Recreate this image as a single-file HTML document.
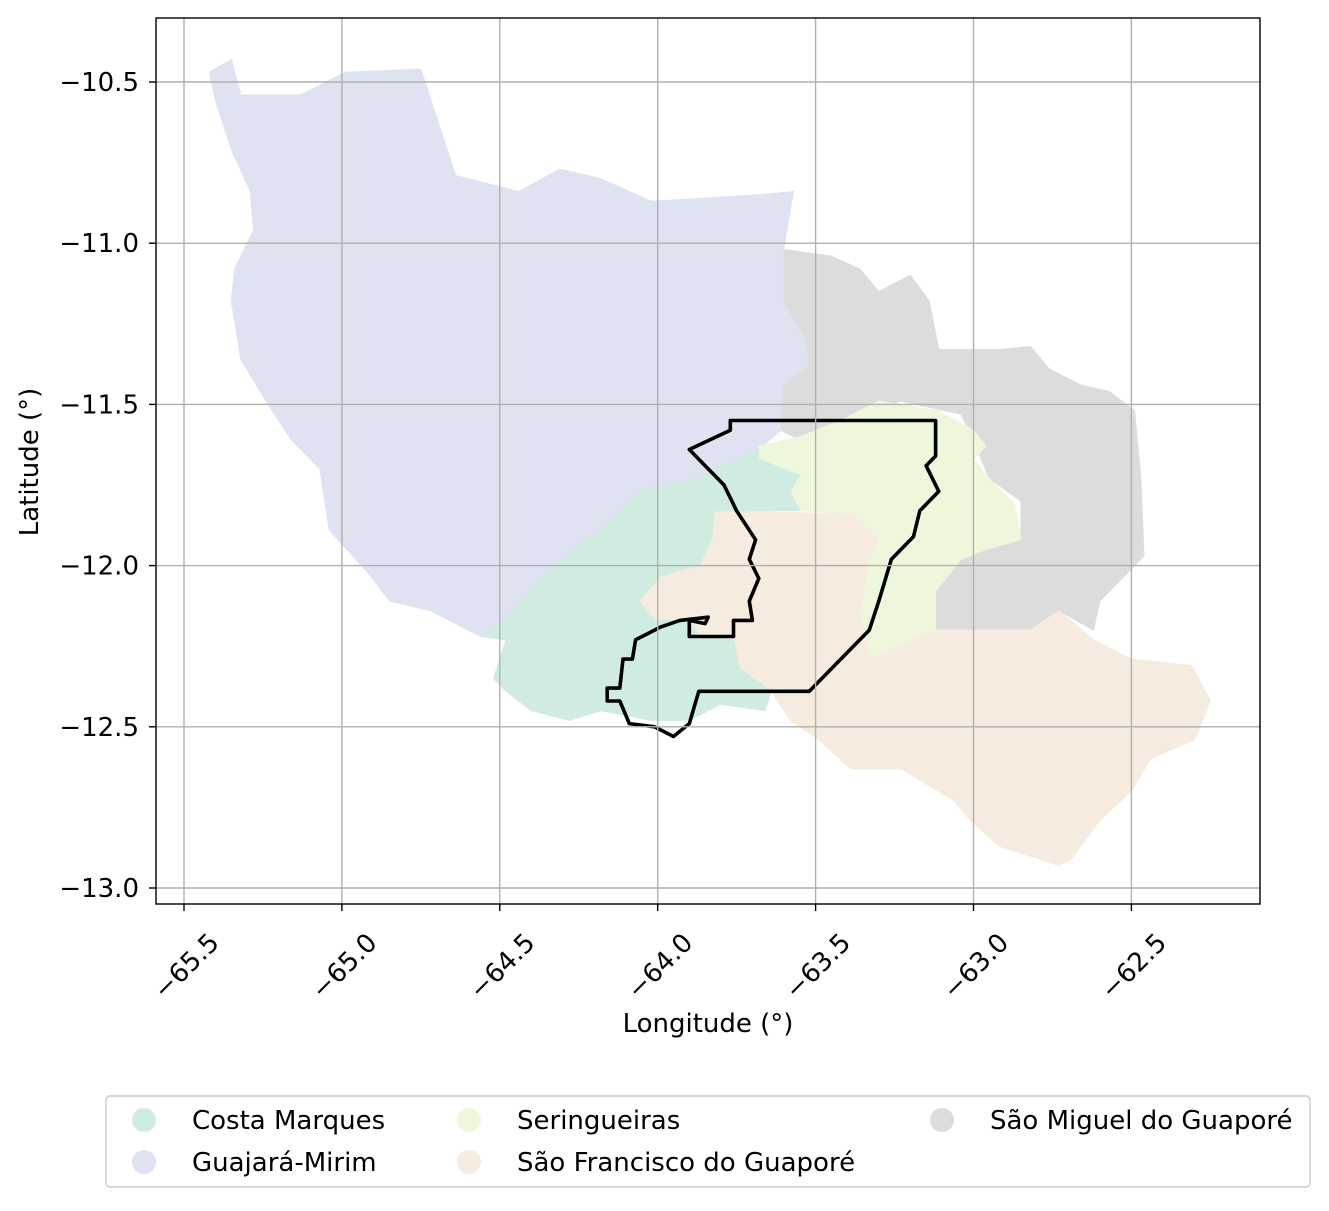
<!DOCTYPE html>
<html><head><meta charset="utf-8"><style>
body{margin:0;background:#fff}
svg text{font-family:"DejaVu Sans","Liberation Sans",sans-serif;fill:#000}
</style></head><body>
<svg id="chart" width="1329" height="1206" viewBox="0 0 1329 1206" xmlns="http://www.w3.org/2000/svg"></svg>
<script>
const xTicks=[-65.5,-65.0,-64.5,-64.0,-63.5,-63.0,-62.5];
const yTicks=[-10.5,-11.0,-11.5,-12.0,-12.5,-13.0];
const guajaraLon=[-65.42,-65.35,-65.32,-65.13,-64.99,-64.75,-64.64,-64.44,-64.31,-64.18,-64.02,-63.68,-63.57,-63.60,-63.60,-63.53,-63.52,-63.60,-63.61,-63.68,-63.87,-64.06,-64.15,-64.25,-64.37,-64.48,-64.56,-64.72,-64.85,-64.91,-65.04,-65.07,-65.16,-65.24,-65.32,-65.35,-65.34,-65.28,-65.29,-65.35,-65.40];
const guajaraLat=[-10.47,-10.43,-10.54,-10.54,-10.47,-10.46,-10.79,-10.84,-10.77,-10.80,-10.87,-10.85,-10.84,-11.01,-11.18,-11.30,-11.38,-11.44,-11.58,-11.64,-11.73,-11.77,-11.86,-11.94,-12.04,-12.17,-12.22,-12.14,-12.11,-12.03,-11.89,-11.70,-11.61,-11.49,-11.36,-11.18,-11.08,-10.96,-10.84,-10.71,-10.56];
const miguelLon=[-63.60,-63.45,-63.36,-63.30,-63.20,-63.14,-63.11,-62.92,-62.82,-62.76,-62.66,-62.57,-62.49,-62.47,-62.46,-62.60,-62.62,-62.73,-62.82,-63.12,-63.12,-63.04,-62.85,-62.85,-62.95,-63.00,-63.04,-63.23,-63.42,-63.55,-63.61,-63.60,-63.52,-63.53,-63.60];
const miguelLat=[-11.02,-11.04,-11.08,-11.15,-11.10,-11.18,-11.33,-11.33,-11.32,-11.39,-11.44,-11.46,-11.52,-11.73,-11.97,-12.11,-12.20,-12.14,-12.20,-12.20,-12.08,-11.98,-11.91,-11.80,-11.73,-11.61,-11.53,-11.49,-11.55,-11.61,-11.58,-11.44,-11.38,-11.30,-11.18];
const seringLon=[-63.68,-63.55,-63.42,-63.30,-63.11,-63.00,-62.96,-63.00,-62.95,-62.87,-62.85,-62.96,-63.04,-63.12,-63.12,-63.23,-63.33,-63.36,-63.33,-63.30,-63.38,-63.55,-63.58,-63.55,-63.68];
const seringLat=[-11.63,-11.60,-11.55,-11.49,-11.52,-11.58,-11.63,-11.67,-11.73,-11.81,-11.92,-11.95,-11.98,-12.08,-12.20,-12.26,-12.29,-12.14,-11.98,-11.92,-11.84,-11.83,-11.77,-11.72,-11.67];
const franLon=[-63.82,-63.38,-63.30,-63.33,-63.36,-63.33,-63.12,-62.82,-62.73,-62.62,-62.50,-62.31,-62.25,-62.30,-62.44,-62.50,-62.60,-62.69,-62.73,-62.92,-63.01,-63.06,-63.23,-63.39,-63.49,-63.58,-63.64,-63.74,-63.76,-63.87,-63.90,-64.01,-64.06,-63.99,-63.87,-63.83];
const franLat=[-11.83,-11.84,-11.92,-11.98,-12.14,-12.29,-12.20,-12.20,-12.14,-12.23,-12.29,-12.31,-12.42,-12.54,-12.60,-12.70,-12.79,-12.91,-12.93,-12.87,-12.79,-12.73,-12.63,-12.63,-12.54,-12.48,-12.39,-12.32,-12.23,-12.22,-12.17,-12.17,-12.11,-12.03,-12.00,-11.92];
const costaLon=[-64.06,-63.87,-63.68,-63.68,-63.55,-63.58,-63.55,-63.82,-63.83,-63.87,-63.99,-64.06,-64.01,-63.90,-63.87,-63.76,-63.74,-63.64,-63.66,-63.80,-63.90,-64.02,-64.18,-64.28,-64.40,-64.48,-64.52,-64.48,-64.56,-64.48,-64.37,-64.25,-64.15];
const costaLat=[-11.77,-11.73,-11.64,-11.67,-11.72,-11.77,-11.83,-11.83,-11.92,-12.00,-12.03,-12.11,-12.17,-12.17,-12.22,-12.23,-12.32,-12.39,-12.45,-12.43,-12.48,-12.48,-12.45,-12.48,-12.45,-12.39,-12.35,-12.23,-12.22,-12.17,-12.04,-11.94,-11.86];
const outlineLon=[-63.77,-63.12,-63.12,-63.15,-63.11,-63.17,-63.19,-63.26,-63.30,-63.33,-63.36,-63.52,-63.87,-63.90,-63.95,-64.01,-64.09,-64.12,-64.16,-64.16,-64.12,-64.11,-64.08,-64.07,-63.99,-63.93,-63.84,-63.85,-63.90,-63.90,-63.76,-63.76,-63.70,-63.71,-63.68,-63.71,-63.69,-63.75,-63.79,-63.90,-63.77];
const outlineLat=[-11.55,-11.55,-11.66,-11.69,-11.77,-11.83,-11.91,-11.98,-12.11,-12.20,-12.23,-12.39,-12.39,-12.49,-12.53,-12.50,-12.49,-12.42,-12.42,-12.38,-12.38,-12.29,-12.29,-12.23,-12.19,-12.17,-12.16,-12.18,-12.17,-12.22,-12.22,-12.17,-12.17,-12.11,-12.04,-11.98,-11.92,-11.83,-11.75,-11.64,-11.58];

const svg=document.getElementById('chart');
const NS='http://www.w3.org/2000/svg';
const X=lon=>184+(lon+65.5)*315.8;
const Y=lat=>82+(-10.5-lat)*322.4;
function mk(t,a,p){const e=document.createElementNS(NS,t);for(const k in a)e.setAttribute(k,a[k]);(p||svg).appendChild(e);return e;}
function pts(lo,la){return lo.map((v,i)=>X(v).toFixed(1)+','+Y(la[i]).toFixed(1)).join(' ');}

const regions=[
 ['guajara-mirim-region',guajaraLon,guajaraLat,'#dfe3f1'],
 ['sao-miguel-region',miguelLon,miguelLat,'#dcdcdc'],
 ['seringueiras-region',seringLon,seringLat,'#eef7dc'],
 ['sao-francisco-region',franLon,franLat,'#f5ebde'],
 ['costa-marques-region',costaLon,costaLat,'#d0ebdf']];
for(const r of regions){
 const p=mk('polygon',{points:pts(r[1],r[2]),fill:r[3],stroke:r[3],'stroke-width':1});
 
 
}
const ol=mk('polygon',{points:pts(outlineLon,outlineLat),fill:'none',stroke:'#000','stroke-width':3.6,'stroke-linejoin':'round'});



for(const t of xTicks){
 const g=mk('line',{x1:X(t),x2:X(t),y1:18,y2:904,stroke:'#b0b0b0','stroke-width':1.4});
 
 
 mk('line',{x1:X(t),x2:X(t),y1:904,y2:911,stroke:'#000','stroke-width':1.4});
 const cx=X(t)+2, cy=966;
 const tx=mk('text',{x:cx,y:cy+9,'font-size':26,'text-anchor':'middle',transform:`rotate(-45 ${cx} ${cy})`});
 tx.textContent=t.toFixed(1).replace('-','\u2212');
 
 
}
for(const t of yTicks){
 const g=mk('line',{x1:156,x2:1260,y1:Y(t),y2:Y(t),stroke:'#b0b0b0','stroke-width':1.4});
 
 
 mk('line',{x1:149,x2:156,y1:Y(t),y2:Y(t),stroke:'#000','stroke-width':1.4});
 const tx=mk('text',{x:139,y:Y(t)+9,'font-size':26,'text-anchor':'end'});
 tx.textContent=t.toFixed(1).replace('-','\u2212');
 
 
}
const fr=mk('rect',{x:156,y:18,width:1104,height:886,fill:'none',stroke:'#000','stroke-width':1.4});


const xt=mk('text',{x:708,y:1032,'font-size':26,'text-anchor':'middle'});xt.textContent='Longitude (°)';


const yt=mk('text',{x:38,y:462,'font-size':26,'text-anchor':'middle',transform:'rotate(-90 38 462)'});yt.textContent='Latitude (°)';



const lg=mk('rect',{x:106,y:1096,width:1204,height:91,rx:4,fill:'#fff',stroke:'#ccc','stroke-width':1.4});


const legendNames=['Costa Marques','Guajará-Mirim','Seringueiras','São Francisco do Guaporé','São Miguel do Guaporé'];
const legendColors=['#d0ebdf','#dfe3f1','#eef7dc','#f5ebde','#dcdcdc'];
const lx=[144,144,469,469,942], ly=[1120,1162,1120,1162,1120];
legendNames.forEach((n,i)=>{
 const c=mk('circle',{cx:lx[i],cy:ly[i],r:12,fill:legendColors[i]});
 
 
 const t=mk('text',{x:lx[i]+48,y:ly[i]+9,'font-size':26});t.textContent=n;
 
 
});
</script>
</body></html>
